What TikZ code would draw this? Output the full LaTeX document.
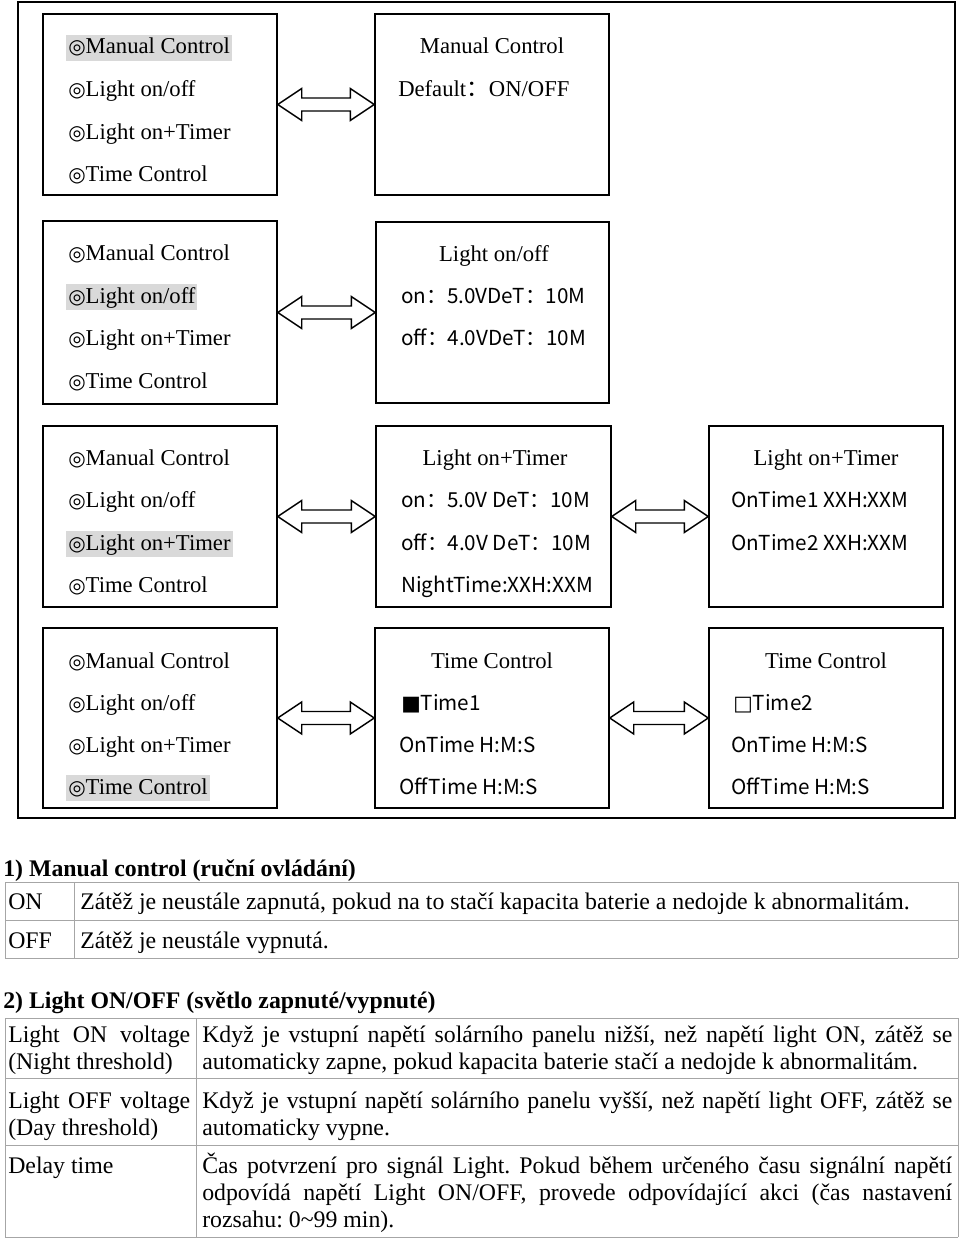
\documentclass[tikz,border=0pt]{standalone}
\usepackage{fontspec}
\setmainfont{Liberation Serif}
\newfontfamily\cjk{Noto Sans CJK SC}
\newfontfamily\dvs{DejaVu Sans}
\usetikzlibrary{calc}
\definecolor{hlgrey}{HTML}{D9D9D9}
\definecolor{tgrey}{HTML}{A6A6A6}
\newcommand\circsym{{\dvs\fontsize{15}{18}\selectfont ◎}}
\newcommand\fw{{\cjk ：}}
\newcommand\dblarr[2]{\draw[dblarrow] (#1.east) -- ++(24,-16) -- ++(0,9.5) -- ($(#2.west)+(-24,-6.5)$) -- ++(0,-9.5) -- (#2.west) -- ++(-24,16) -- ++(0,-9.5) -- ($(#1.east)+(24,6.5)$) -- ++(0,9.5) -- cycle;}
\hyphenpenalty=10000
\frenchspacing
\begin{document}
\begin{tikzpicture}[x=0.75pt,y=-0.75pt,
 panel/.style={draw, line width=1.1pt, inner sep=0pt},
 menuitem/.style={anchor=base west, inner xsep=1.5pt, inner ysep=0pt, text height=14.25pt, text depth=5.25pt, font=\fontsize{17}{20}\selectfont},
 hl/.style={fill=hlgrey},
 ptitle/.style={anchor=base, inner sep=0pt, font=\fontsize{17}{20}\selectfont},
 ptext/.style={anchor=base west, inner sep=0pt, font=\fontsize{17}{20}\selectfont},
 scr/.style={anchor=base west, inner sep=0pt, font=\cjk\fontsize{15.5}{18}\selectfont},
 dblarrow/.style={draw, line width=1.1pt, fill=white, line join=miter},
 tline/.style={draw=tgrey, line width=0.75pt},
 head/.style={anchor=base west, inner sep=0pt, font=\bfseries\fontsize{17.85}{20.25}\selectfont},
 cell/.style={anchor=base west, inner sep=0pt, font=\fontsize{17.85}{20.25}\selectfont},
 pcell/.style={cell, text width=#1, align=justify},
]
\useasboundingbox (0,0) rectangle (960,1238);

% outer frame
\node[panel, minimum width=702.75pt, minimum height=612pt] (frame) at (486.5,410) {};

% panels
\node[panel, minimum width=175.5pt, minimum height=135.75pt] (r1a) at (160,104.5) {};
\node[panel, minimum width=175.5pt, minimum height=135.75pt] (r1b) at (492,104.5) {};
\node[panel, minimum width=175.5pt, minimum height=137.25pt] (r2a) at (160,312.5) {};
\node[panel, minimum width=174.75pt, minimum height=135.75pt] (r2b) at (492.5,312.5) {};
\node[panel, minimum width=175.5pt, minimum height=135.75pt] (r3a) at (160,516.5) {};
\node[panel, minimum width=176.25pt, minimum height=135.75pt] (r3b) at (493.5,516.5) {};
\node[panel, minimum width=175.5pt, minimum height=135.75pt] (r3c) at (826,516.5) {};
\node[panel, minimum width=175.5pt, minimum height=135pt] (r4a) at (160,718) {};
\node[panel, minimum width=175.5pt, minimum height=135pt] (r4b) at (492,718) {};
\node[panel, minimum width=175.5pt, minimum height=135pt] (r4c) at (826,718) {};

% arrows
\dblarr{r1a}{r1b}
\dblarr{r2a}{r2b}
\dblarr{r3a}{r3b}
\dblarr{r3b}{r3c}
\dblarr{r4a}{r4b}
\dblarr{r4b}{r4c}

% menus
\node[menuitem, hl] (m11) at (66,54) {\circsym Manual Control};
\node[menuitem] (m12) at (66,97) {\circsym Light on/off};
\node[menuitem] (m13) at (66,139) {\circsym Light on+Timer};
\node[menuitem] (m14) at (66,181) {\circsym Time Control};

\node[menuitem] (m21) at (66,260) {\circsym Manual Control};
\node[menuitem, hl] (m22) at (66,303) {\circsym Light on/off};
\node[menuitem] (m23) at (66,345) {\circsym Light on+Timer};
\node[menuitem] (m24) at (66,388) {\circsym Time Control};

\node[menuitem] (m31) at (66,465) {\circsym Manual Control};
\node[menuitem] (m32) at (66,507) {\circsym Light on/off};
\node[menuitem, hl] (m33) at (66,550) {\circsym Light on+Timer};
\node[menuitem] (m34) at (66,592) {\circsym Time Control};

\node[menuitem] (m41) at (66,668) {\circsym Manual Control};
\node[menuitem] (m42) at (66,710) {\circsym Light on/off};
\node[menuitem] (m43) at (66,752) {\circsym Light on+Timer};
\node[menuitem, hl] (m44) at (66,794) {\circsym Time Control};

% right panel contents
\node[ptitle] (t1) at (492,54) {Manual Control};
\node[ptext] (d1) at (398,97) {Default\fw ON/OFF};

\node[ptitle] (t2) at (494,261) {Light on/off};
\node[scr] (s21) at (401,303) {on\fw 5.0VDeT\fw 10M};
\node[scr] (s22) at (401,345) {off\fw 4.0VDeT\fw 10M};

\node[ptitle] (t3) at (495,465) {Light on+Timer};
\node[scr] (s31) at (401,507) {on\fw 5.0V DeT\fw 10M};
\node[scr] (s32) at (401,550) {off\fw 4.0V DeT\fw 10M};
\node[scr] (s33) at (401,592) {NightTime:XXH:XXM};

\node[ptitle] (t4) at (826,465) {Light on+Timer};
\node[scr] (s34) at (731,507) {OnTime1 XXH:XXM};
\node[scr] (s35) at (731,550) {OnTime2 XXH:XXM};

\node[ptitle] (t5) at (492,668) {Time Control};
\node[scr] (s41) at (401,710) {{\dvs ■}Time1};
\node[scr] (s42) at (399,752) {OnTime H:M:S};
\node[scr] (s43) at (399,794) {OffTime H:M:S};

\node[ptitle] (t6) at (826,668) {Time Control};
\node[scr] (s44) at (733,710) {{\dvs □}Time2};
\node[scr] (s45) at (731,752) {OnTime H:M:S};
\node[scr] (s46) at (731,794) {OffTime H:M:S};

% table 1
\node[head] (h1) at (3,876) {1) Manual control (ruční ovládání)};
\draw[tline] (5,882) -- (958,882);
\draw[tline] (5,920) -- (958,920);
\draw[tline] (5,958) -- (958,958);
\draw[tline] (5,882) -- (5,958);
\draw[tline] (74,882) -- (74,958);
\draw[tline] (958,882) -- (958,958);
\node[cell] (c11) at (8,909) {ON};
\node[cell] (c12) at (80,909) {Zátěž je neustále zapnutá, pokud na to stačí kapacita baterie a nedojde k abnormalitám.};
\node[cell] (c21) at (8,948) {OFF};
\node[cell] (c22) at (80,948) {Zátěž je neustále vypnutá.};

% table 2
\node[head] (h2) at (3,1008) {2) Light ON/OFF (světlo zapnuté/vypnuté)};
\draw[tline] (5,1018) -- (958,1018);
\draw[tline] (5,1078) -- (958,1078);
\draw[tline] (5,1145) -- (958,1145);
\draw[tline] (5,1237) -- (958,1237);
\draw[tline] (5,1018) -- (5,1237);
\draw[tline] (196,1018) -- (196,1237);
\draw[tline] (958,1018) -- (958,1237);
\node[pcell=136.5pt] (d11) at (8,1042) {Light ON voltage\linebreak (Night threshold)};
\node[pcell=562.5pt] (d12) at (202,1042) {Když je vstupní napětí solárního panelu nižší, než napětí light ON, zátěž se\linebreak automaticky zapne, pokud kapacita baterie stačí a nedojde k abnormalitám.};
\node[pcell=136.5pt] (d21) at (8,1108) {Light OFF voltage\linebreak (Day threshold)};
\node[pcell=562.5pt] (d22) at (202,1108) {Když je vstupní napětí solárního panelu vyšší, než napětí light OFF, zátěž se\linebreak automaticky vypne.};
\node[pcell=136.5pt] (d31) at (8,1173) {Delay time};
\node[pcell=562.5pt] (d32) at (202,1173) {Čas potvrzení pro signál Light. Pokud během určeného času signální napětí\linebreak odpovídá napětí Light ON/OFF, provede odpovídající akci (čas nastavení\linebreak rozsahu: 0\textasciitilde 99 min).};
\end{tikzpicture}
\end{document}
